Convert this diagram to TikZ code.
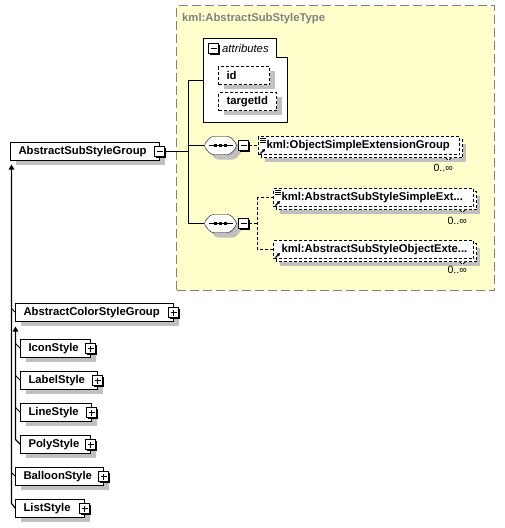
\documentclass[tikz,border=0pt]{standalone}
\usepackage{fontspec}
\setmainfont{Liberation Sans}
\usetikzlibrary{arrows.meta,calc}
\pgfdeclarelayer{back}
\pgfdeclarelayer{shadow}
\pgfsetlayers{back,shadow,main}
\definecolor{ylw}{RGB}{255,255,204}
\definecolor{shd}{RGB}{192,192,192}
\definecolor{ttl}{RGB}{128,128,128}
\newcommand\dfs{\fontsize{11.3pt}{13pt}\selectfont}
\newcommand\seqshape[1]{%
 \fill[shd,rounded corners=3pt] ([shift={(5,5)}]#1.west) -- ++(7,-9) -- ++(20,0) -- ++(7,9) -- ++(-7,9) -- ++(-20,0) -- cycle;
 \draw[fill=white,rounded corners=3pt] (#1.west) -- ++(7,-9) -- ++(20,0) -- ++(7,9) -- ++(-7,9) -- ++(-20,0) -- cycle;
 \draw ([xshift=5pt]#1.west) -- ([xshift=-5pt]#1.east);
 \foreach \d in {-5,0,5} \fill ([shift={(\d-1.5,-1.5)}]#1.center) rectangle ++(3,3);
}
\newcommand\refstack[3]{%
 \fill[shd] (#1+6,#2-2) rectangle (#1+#3+6,#2+16);
 \draw[dsh,fill=white] (#1+3,#2-6) rectangle (#1+#3+3,#2+12);
 \draw[line width=0.8pt,dsh,fill=white] (#1+#3-14,#2+12) -- (#1+#3-11,#2+15) -- (#1+#3-8,#2+12);
}
\newcommand\reflines[2]{\foreach \k in {0,2.3,4.6} \draw[line width=0.8pt] (#1,#2+\k) -- ++(5.5,0);}
\newcommand\refarrow[2]{\draw[line width=1.2pt,-{Triangle[length=3pt,width=3.5pt]}] (#1,#2) -- ++(4.5,-4.5);}
\newcommand\pmsh[1]{\fill[black] ([shift={(-4,-4)}]#1) rectangle ([shift={(6.8,6.8)}]#1);}
\newcommand\boxsh[1]{\fill[shd] ([shift={(5,4)}]#1.north west) rectangle ([shift={(5,4)}]#1.south east);}
\begin{document}
\begin{tikzpicture}[x=1pt,y=-1pt,line width=1pt,
  dsh/.style={dash pattern=on 3pt off 2pt},
  elem/.style={draw,fill=white,anchor=west,inner xsep=8pt,inner ysep=0pt,outer sep=0pt,minimum height=18pt,font=\dfs\bfseries},
  attr/.style={elem,dsh},
  refb/.style={elem,dsh},
  pm/.style={draw,fill=white,minimum size=10pt,inner sep=0pt,outer sep=0pt},
  minus/.style={pm,path picture={\draw[line width=1pt] ([xshift=2pt]path picture bounding box.west) -- ([xshift=-2pt]path picture bounding box.east);}},
  plus/.style={pm,path picture={\draw[line width=1pt] ([xshift=2pt]path picture bounding box.west) -- ([xshift=-2pt]path picture bounding box.east) ([yshift=2pt]path picture bounding box.south) -- ([yshift=-2pt]path picture bounding box.north);}},
  seqn/.style={minimum width=34pt,minimum height=18pt,inner sep=0pt,outer sep=0pt},
  occ/.style={anchor=east,inner sep=0pt,font=\fontsize{10.5pt}{12pt}\selectfont},
  inh/.style={draw=black,line width=1.2pt,-{Triangle[length=5pt,width=5.5pt]}},
  tick/.style={draw=black,line width=1pt}]
\useasboundingbox (0,0) rectangle (505,528);

% complex type container and attribute group outline (back layer)
\begin{pgfonlayer}{back}
\node[draw=ttl,dash pattern=on 9pt off 4pt,fill=ylw,anchor=north west,minimum width=318pt,minimum height=285pt,inner sep=0pt,outer sep=0pt] (type) at (176.5,5.5) {};
\node[anchor=north west,minimum width=84pt,minimum height=65pt,inner sep=0pt,outer sep=0pt] (attrs) at (203.5,57.5) {};
\draw[fill=white] (attrs.north west) -- ++(0,-19) -- ++(73,0) -- ++(0,19) -- (attrs.north east) -- (attrs.south east) -- (attrs.south west) -- cycle;
\end{pgfonlayer}
\node[anchor=west,text=ttl,font=\dfs\bfseries,inner sep=0pt] (typettl) at (182,19) {kml:AbstractSubStyleType};

% attributes
\pmsh{213.5,48.5}
\node[minus] (mattr) at (213.5,48.5) {};
\node[anchor=west,inner sep=0pt,font=\dfs\itshape] (attrlbl) at (222,48) {attributes};
\node[attr] (id) at (218.5,75.5) {\makebox[35pt][l]{id}};
\node[attr] (tid) at (218.5,101.5) {\makebox[42pt][l]{targetId}};

% left column
\node[elem] (abs) at (10.5,151.5) {\makebox[133pt][l]{AbstractSubStyleGroup}};
\node[elem] (acsg) at (15.5,312.5) {\makebox[142pt][l]{AbstractColorStyleGroup}};
\node[elem] (icon) at (20.5,348.5) {\makebox[54pt][l]{IconStyle}};
\node[elem] (label) at (20.5,380.5) {\makebox[61pt][l]{LabelStyle}};
\node[elem] (line) at (20.5,412.5) {\makebox[55pt][l]{LineStyle}};
\node[elem] (poly) at (20.5,444.5) {\makebox[54pt][l]{PolyStyle}};
\node[elem] (balloon) at (15.5,476.5) {\makebox[72pt][l]{BalloonStyle}};
\node[elem] (list) at (15.5,508.5) {\makebox[53pt][l]{ListStyle}};
\begin{pgfonlayer}{shadow}
\foreach \n in {id,tid,abs,acsg,icon,label,line,poly,balloon,list} {\boxsh{\n}}
\end{pgfonlayer}
\pmsh{abs.east}
\node[minus] (mabs) at (abs.east) {};
\pmsh{acsg.east}
\node[plus] (pacsg) at (acsg.east) {};
\pmsh{icon.east}
\node[plus] (picon) at (icon.east) {};
\pmsh{label.east}
\node[plus] (plabel) at (label.east) {};
\pmsh{line.east}
\node[plus] (pline) at (line.east) {};
\pmsh{poly.east}
\node[plus] (ppoly) at (poly.east) {};
\pmsh{balloon.east}
\node[plus] (pballoon) at (balloon.east) {};
\pmsh{list.east}
\node[plus] (plist) at (list.east) {};

% sequences
\node[seqn] (s1) at (220.5,145.5) {};
\node[seqn] (s2) at (220.5,223.5) {};
\seqshape{s1}
\seqshape{s2}
\pmsh{243.5,145.5}
\node[minus] (ms1) at (243.5,145.5) {};
\pmsh{243.5,223.5}
\node[minus] (ms2) at (243.5,223.5) {};

% element references
\refstack{258.5}{145.5}{201}
\node[refb] (ose) at (258.5,145.5) {\makebox[185pt][l]{kml:ObjectSimpleExtensionGroup}};
\reflines{260}{138}
\refarrow{260.5}{153.5}
\node[occ] (occ1) at (453,168) {0..∞};

\refstack{273.5}{197.5}{200}
\node[refb] (ssx) at (273.5,197.5) {\makebox[184pt][l]{kml:AbstractSubStyleSimpleExt...}};
\reflines{275}{190}
\refarrow{275.5}{205.5}
\node[occ] (occ2) at (467,221) {0..∞};

\refstack{273.5}{249.5}{200}
\node[refb] (sox) at (273.5,249.5) {\makebox[184pt][l]{kml:AbstractSubStyleObjectExte...}};
\refarrow{275.5}{257.5}
\node[occ] (occ3) at (467,270) {0..∞};

% connectors
\coordinate (trunk) at (188.5,0);
\draw (mabs.east) -- (trunk |- mabs.east);
\draw ($(attrs.north west)+(0,23)$) -| (trunk |- s2.west) -- (s2.west);
\draw (s1.west) -- (trunk |- s1.west);
\draw[dsh] (ms1.east) -- (ose.west);
\draw[dsh] (ms2.east) -- ++(9,0) coordinate (fork);
\draw[dsh] (ssx.west) -| (fork) |- (sox.west);

% inheritance
\draw[inh] (list.west) -- ++(-4,-5) -- ([shift={(1,4)}]abs.south west);
\draw[inh] (poly.west) -- ++(-5,-5) -- ([shift={(0,5)}]acsg.south west);
\draw[tick] (acsg.west) -- ++(-4,-4);
\draw[tick] (balloon.west) -- ++(-4,-4);
\draw[tick] (icon.west) -- ++(-5,-5);
\draw[tick] (label.west) -- ++(-5,-5);
\draw[tick] (line.west) -- ++(-5,-5);
\end{tikzpicture}
\end{document}
